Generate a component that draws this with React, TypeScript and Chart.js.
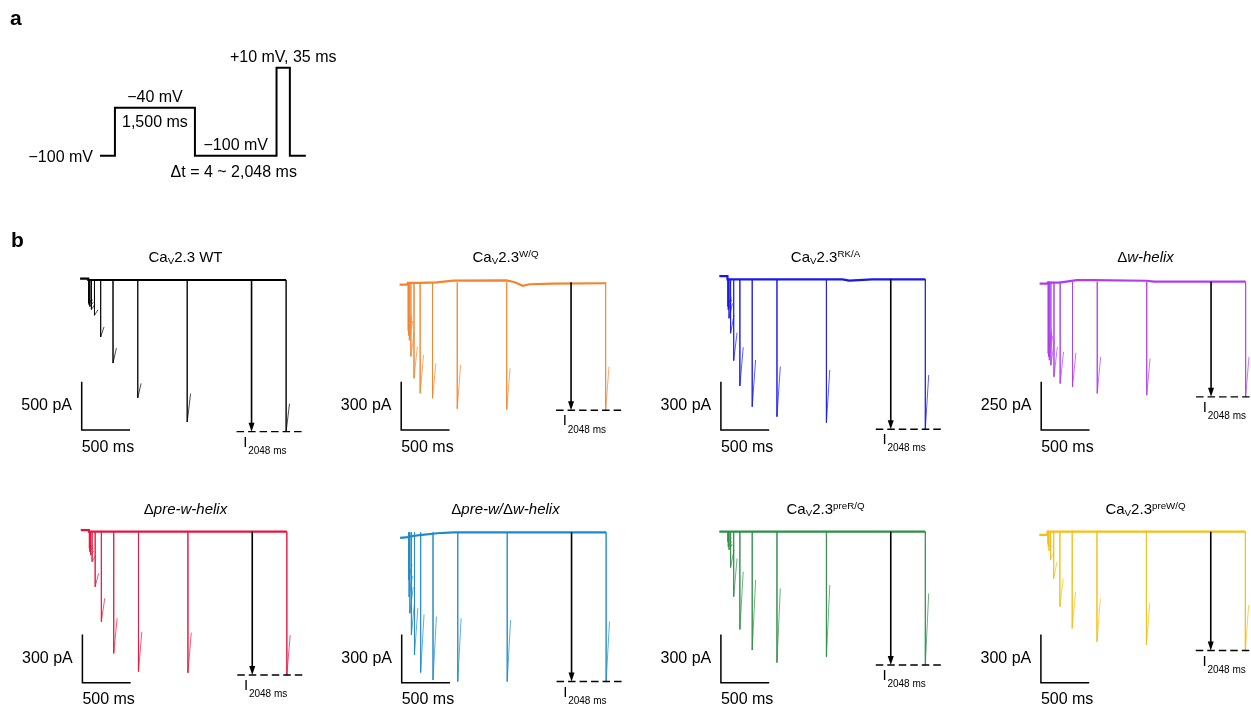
import React, { useEffect, useRef } from 'react';
import { Chart, registerables } from 'chart.js';

Chart.register(...registerables);

const FONT = '"Liberation Sans", Arial, Helvetica, sans-serif';

// ---------------- Panel a: voltage protocol (schematic) ----------------
const PROTOCOL_LEVELS_MV = [-100, -40, -100, 10, -100];
// drawn segment durations (ms); the test pulse and holding segments are schematic
const PROTOCOL_DRAWN_MS = [280, 1500, 1530, 250, 300];

// ---------------- Panel b: recovery traces ----------------
const INTERVALS_MS = [4, 8, 16, 32, 64, 128, 256, 512, 1024, 2048];
const TEST_PULSE_MS = 35;
const SCALE_BAR_MS = 500;
const ARROW_T_MS = 1690;
const DASH_T_MS = [1535, 2208];
const BASELINE_T_MS = [-85, -1, 0, 120, 300, 470, 1020, 1100, 1190, 1260, 1500, 2048];

// peak current at the start of each test pulse (pA)
const wtPeakPA = [-240, -255, -275, -305, -365, -590, -860, -1220, -1470, -1570];
const wtEndPA = [-200, -210, -230, -255, -310, -485, -705, -1070, -1175, -1280];
const wtBasePA = [15, 15, 0, 0, 0, 0, 0, 0, 0, 0, 0, 0];

const wqPeakPA = [-300, -330, -360, -460, -596, -689, -720, -785, -790, -795];
const wqEndPA = [-200, -220, -240, -310, -400, -451, -503, -513, -534, -524];
const wqBasePA = [-15, -15, -3, -3, 0, 10, 12, 2, -22, -12, -8, -6];

const rkaPeakPA = [-168, -190, -242, -335, -505, -662, -791, -853, -890, -931];
const rkaEndPA = [-110, -125, -150, -222, -331, -422, -501, -542, -563, -594];
const rkaBasePA = [20, 20, 0, 0, 0, 0, 0, 0, 0, -8, 0, 0];

const dwPeakPA = [-371, -389, -406, -432, -492, -527, -544, -578, -587, -596];
const dwEndPA = [-250, -265, -280, -305, -337, -363, -368, -389, -397, -389];
const dwBasePA = [-10, -10, -5, -5, 8, 8, 5, 0, 0, 0, 0, 0];

const dprewPeakPA = [-104, -124, -145, -186, -342, -559, -756, -869, -876, -890];
const dprewEndPA = [-85, -100, -120, -150, -259, -414, -538, -621, -627, -642];
const dprewBasePA = [10, 10, 0, 0, 0, 0, 0, 0, 0, 0, 0, 0];

const dbothPeakPA = [-296, -400, -503, -638, -762, -871, -917, -927, -927, -927];
const dbothEndPA = [-200, -270, -340, -420, -470, -510, -524, -534, -545, -555];
const dbothBasePA = [-35, -30, -28, -17, -6, 0, 0, 0, 0, 0, 0, 0];

const prerqPeakPA = [-62, -93, -112, -222, -404, -607, -735, -813, -776, -828];
const prerqEndPA = [-40, -60, -75, -112, -166, -248, -300, -352, -331, -383];
const prerqBasePA = [0, 0, 0, 0, 0, 0, 0, 0, 0, 0, 0, 0];

const prewqPeakPA = [-75, -93, -118, -174, -290, -466, -600, -683, -704, -738];
const prewqEndPA = [-55, -70, -85, -124, -186, -290, -373, -414, -441, -455];
const prewqBasePA = [-20, -20, 0, 0, 0, 0, 0, 0, 0, 0, 0, 0];

const SCALE_BARS_PA = [500, 300, 300, 250, 300, 300, 300, 300];

type Piece = { t: string; k?: 'sub' | 'sup'; it?: boolean };

const CAV: Piece[] = [{ t: 'Ca' }, { t: 'V', k: 'sub' }, { t: '2.3' }];

const PANELS = [
  { title: [...CAV, { t: ' WT' }], color: '#000000', peaks: wtPeakPA, ends: wtEndPA, base: wtBasePA, scalePA: SCALE_BARS_PA[0], col: 0, row: 0, x0: 88.3, y0: 48, letter: 'b' },
  { title: [...CAV, { t: 'W/Q', k: 'sup' }], color: '#F2852E', peaks: wqPeakPA, ends: wqEndPA, base: wqBasePA, scalePA: SCALE_BARS_PA[1], col: 1, row: 0, x0: 87.8, y0: 50.3 },
  { title: [...CAV, { t: 'RK/A', k: 'sup' }], color: '#1818EE', peaks: rkaPeakPA, ends: rkaEndPA, base: rkaBasePA, scalePA: SCALE_BARS_PA[2], col: 2, row: 0, x0: 87.5, y0: 47.3 },
  { title: [{ t: 'Δ' }, { t: 'w-helix', it: true }], color: '#B23CEB', peaks: dwPeakPA, ends: dwEndPA, base: dwBasePA, scalePA: SCALE_BARS_PA[3], col: 3, row: 0, x0: 87.8, y0: 49.7 },
  { title: [{ t: 'Δ' }, { t: 'pre-w-helix', it: true }], color: '#E8143E', peaks: dprewPeakPA, ends: dprewEndPA, base: dprewBasePA, scalePA: SCALE_BARS_PA[4], col: 0, row: 1, x0: 89, y0: 47.7 },
  { title: [{ t: 'Δ' }, { t: 'pre-w/', it: true }, { t: 'Δ' }, { t: 'w-helix', it: true }], color: '#1F8AC8', peaks: dbothPeakPA, ends: dbothEndPA, base: dbothBasePA, scalePA: SCALE_BARS_PA[5], col: 1, row: 1, x0: 88.3, y0: 48.3 },
  { title: [...CAV, { t: 'preR/Q', k: 'sup' }], color: '#2E8F48', peaks: prerqPeakPA, ends: prerqEndPA, base: prerqBasePA, scalePA: SCALE_BARS_PA[6], col: 2, row: 1, x0: 87.5, y0: 47.7 },
  { title: [...CAV, { t: 'preW/Q', k: 'sup' }], color: '#F7BE16', peaks: prewqPeakPA, ends: prewqEndPA, base: prewqBasePA, scalePA: SCALE_BARS_PA[7], col: 3, row: 1, x0: 87.5, y0: 47.7 },
];

const PAGE_W = 1251;
const PAGE_H = 709;
const COL_W = 320;
const ROW_TOP = [232, 484];
const PX_PER_MS = 48.3 / 500;
const SCALE_BAR_PX = 48.3;
const SB_Y = [198, 198.7];

function drawRich(ctx: CanvasRenderingContext2D, pieces: Piece[], cx: number, baseline: number, size: number) {
  const fontFor = (p: Piece) => `${p.it ? 'italic ' : ''}${p.k ? size * 0.65 : size}px ${FONT}`;
  let w = 0;
  for (const p of pieces) {
    ctx.font = fontFor(p);
    w += ctx.measureText(p.t).width;
  }
  let x = cx - w / 2;
  ctx.textAlign = 'left';
  ctx.textBaseline = 'alphabetic';
  for (const p of pieces) {
    ctx.font = fontFor(p);
    const dy = p.k === 'sub' ? size * 0.15 : p.k === 'sup' ? -size * 0.3 : 0;
    ctx.fillText(p.t, x, baseline + dy);
    x += ctx.measureText(p.t).width;
  }
}

function ProtocolPanel() {
  const ref = useRef<HTMLCanvasElement>(null);
  useEffect(() => {
    const W = 400, H = 220;
    const X0 = 100, SX = 80 / 1500, Y100 = 155.7, SY = 0.8;
    const pts: { x: number; y: number }[] = [];
    let t = 0;
    PROTOCOL_LEVELS_MV.forEach((v, i) => {
      pts.push({ x: t, y: v });
      t += PROTOCOL_DRAWN_MS[i];
      pts.push({ x: t, y: v });
    });
    const bounds: number[] = [0];
    let acc = 0;
    PROTOCOL_DRAWN_MS.forEach((d) => { acc += d; bounds.push(acc); });
    const plugin = {
      id: 'protoLabels',
      afterDatasetsDraw(chart: any) {
        const ctx: CanvasRenderingContext2D = chart.ctx;
        const X = (v: number) => chart.scales.x.getPixelForValue(v);
        const Y = (v: number) => chart.scales.y.getPixelForValue(v);
        ctx.save();
        ctx.fillStyle = '#000';
        ctx.textBaseline = 'alphabetic';
        ctx.font = `bold 21px ${FONT}`;
        ctx.textAlign = 'left';
        ctx.fillText('a', 10, 25);
        ctx.font = `16px ${FONT}`;
        const mid = (i: number) => (X(bounds[i]) + X(bounds[i + 1])) / 2;
        ctx.textAlign = 'right';
        ctx.fillText('−100 mV', X(bounds[0]) - 7, Y(PROTOCOL_LEVELS_MV[0]) + 6);
        ctx.textAlign = 'center';
        ctx.fillText(`−${Math.abs(PROTOCOL_LEVELS_MV[1])} mV`, mid(1), Y(PROTOCOL_LEVELS_MV[1]) - 6);
        ctx.fillText('1,500 ms', mid(1), Y(PROTOCOL_LEVELS_MV[1]) + 19);
        ctx.fillText('−100 mV', mid(2), Y(PROTOCOL_LEVELS_MV[2]) - 5.7);
        ctx.fillText('Δt = 4 ~ 2,048 ms', mid(2) - 2, Y(PROTOCOL_LEVELS_MV[2]) + 21);
        ctx.fillText('+10 mV, 35 ms', mid(3), Y(PROTOCOL_LEVELS_MV[3]) - 5.8);
        ctx.restore();
      },
    };
    const chart = new Chart(ref.current as HTMLCanvasElement, {
      type: 'line',
      data: {
        datasets: [{
          data: pts,
          borderColor: '#000',
          borderWidth: 2,
          pointRadius: 0,
          tension: 0,
          fill: false,
          borderJoinStyle: 'miter',
          borderCapStyle: 'butt',
          clip: false,
        } as any],
      },
      options: {
        responsive: false,
        animation: false,
        events: [],
        layout: { padding: 0 },
        plugins: { legend: { display: false }, tooltip: { enabled: false }, title: { display: false } },
        scales: {
          x: { type: 'linear', display: false, min: -X0 / SX, max: (W - X0) / SX },
          y: { type: 'linear', display: false, min: -100 - (H - Y100) / SY, max: -100 + Y100 / SY },
        },
      } as any,
      plugins: [plugin],
    });
    return () => chart.destroy();
  }, []);
  return <canvas ref={ref} width={400} height={220} style={{ position: 'absolute', left: 0, top: 0, display: 'block' }} />;
}

function TracePanel({ p }: { p: (typeof PANELS)[number] }) {
  const ref = useRef<HTMLCanvasElement>(null);
  const left = p.col * COL_W;
  const top = ROW_TOP[p.row];
  const W = Math.min(COL_W, PAGE_W - left);
  const H = p.row === 0 ? ROW_TOP[1] - ROW_TOP[0] : PAGE_H - ROW_TOP[1];
  useEffect(() => {
    const SY = SCALE_BAR_PX / p.scalePA;
    const datasets: any[] = [];
    datasets.push({
      data: BASELINE_T_MS.map((t, i) => ({ x: t, y: p.base[i] })),
      borderColor: p.color,
      borderWidth: 2.2,
      pointRadius: 0,
      tension: 0,
      clip: false,
    });
    INTERVALS_MS.forEach((dt, i) => {
      datasets.push({
        data: [
          { x: dt, y: 0 },
          { x: dt, y: p.peaks[i] },
          { x: dt + TEST_PULSE_MS, y: p.ends[i] },
        ],
        borderColor: p.color,
        borderWidth: 0.7,
        pointRadius: 0,
        tension: 0,
        clip: false,
      });
    });
    const plugin = {
      id: 'traceAnnot',
      afterDatasetsDraw(chart: any) {
        const ctx: CanvasRenderingContext2D = chart.ctx;
        const X = (v: number) => chart.scales.x.getPixelForValue(v);
        const Y = (v: number) => chart.scales.y.getPixelForValue(v);
        ctx.save();
        ctx.fillStyle = '#000';
        ctx.strokeStyle = '#000';
        drawRich(ctx, p.title as Piece[], 185.5, 29.7, 15);
        if ((p as any).letter) {
          ctx.font = `bold 21px ${FONT}`;
          ctx.textAlign = 'left';
          ctx.fillText((p as any).letter, 11, 14.7);
        }
        // scale bars
        const sbx = X(0) - 6.6;
        const sby = SB_Y[p.row];
        const w = X(SCALE_BAR_MS) - X(0);
        const h = Y(0) - Y(p.scalePA);
        ctx.lineWidth = 1.5;
        ctx.lineCap = 'butt';
        ctx.beginPath();
        ctx.moveTo(sbx, sby - h);
        ctx.lineTo(sbx, sby);
        ctx.lineTo(sbx + w, sby);
        ctx.stroke();
        ctx.font = `16px ${FONT}`;
        ctx.textBaseline = 'alphabetic';
        ctx.textAlign = 'right';
        ctx.fillText(`${p.scalePA} pA`, sbx - 9.7, sby - 20);
        ctx.textAlign = 'left';
        ctx.fillText(`${SCALE_BAR_MS} ms`, sbx, sby + 21.7);
        // dashed reference at the 2048 ms peak
        const peak = p.peaks[p.peaks.length - 1];
        const yd = Y(peak);
        ctx.lineWidth = 1.4;
        ctx.setLineDash([7.5, 4]);
        ctx.beginPath();
        ctx.moveTo(X(DASH_T_MS[0]), yd);
        ctx.lineTo(X(DASH_T_MS[1]), yd);
        ctx.stroke();
        ctx.setLineDash([]);
        // arrow
        const xa = X(ARROW_T_MS);
        ctx.lineWidth = 1.6;
        ctx.beginPath();
        ctx.moveTo(xa, Y(0));
        ctx.lineTo(xa, yd - 7);
        ctx.stroke();
        ctx.beginPath();
        ctx.moveTo(xa - 3, yd - 9);
        ctx.lineTo(xa + 3, yd - 9);
        ctx.lineTo(xa, yd);
        ctx.closePath();
        ctx.fill();
        // label
        const xl = X(DASH_T_MS[0]);
        ctx.textAlign = 'left';
        ctx.font = `15px ${FONT}`;
        ctx.fillText('I', xl + 6.6, yd + 15);
        ctx.font = `10px ${FONT}`;
        ctx.fillText(`${INTERVALS_MS[INTERVALS_MS.length - 1]} ms`, xl + 11.6, yd + 22.3);
        ctx.restore();
      },
    };
    const chart = new Chart(ref.current as HTMLCanvasElement, {
      type: 'line',
      data: { datasets },
      options: {
        responsive: false,
        animation: false,
        events: [],
        layout: { padding: 0 },
        plugins: { legend: { display: false }, tooltip: { enabled: false }, title: { display: false } },
        scales: {
          x: { type: 'linear', display: false, min: -p.x0 / PX_PER_MS, max: (W - p.x0) / PX_PER_MS },
          y: { type: 'linear', display: false, min: -(H - p.y0) / SY, max: p.y0 / SY },
        },
      } as any,
      plugins: [plugin],
    });
    return () => chart.destroy();
  }, []);
  return <canvas ref={ref} width={W} height={H} style={{ position: 'absolute', left, top, display: 'block' }} />;
}

export default function App() {
  return (
    <div style={{ position: 'absolute', left: 0, top: 0, width: PAGE_W, height: PAGE_H, overflow: 'hidden', background: '#fff' }}>
      <ProtocolPanel />
      {PANELS.map((p, i) => (
        <TracePanel key={i} p={p} />
      ))}
    </div>
  );
}
